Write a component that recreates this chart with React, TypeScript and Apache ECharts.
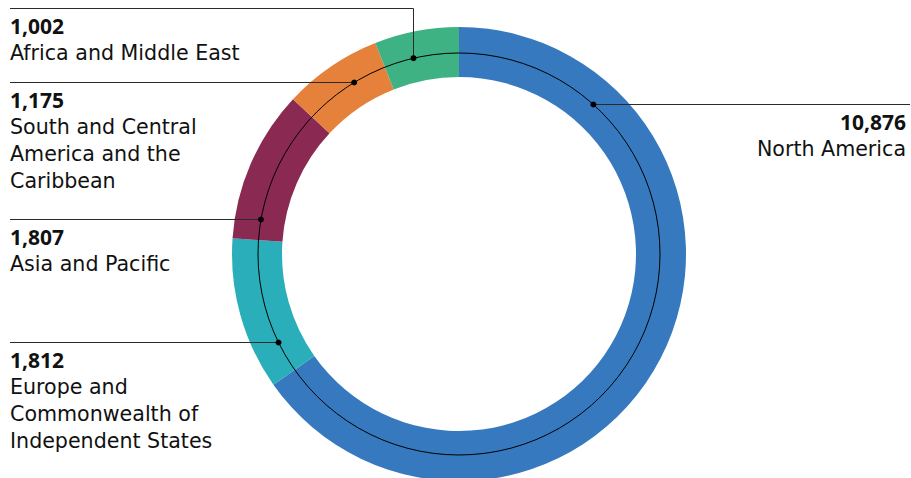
import React, { useEffect, useRef } from "react";
import * as echarts from "echarts";

// Regions, listed clockwise from 12 o'clock
const regions = [
  "North America",
  "Europe and\nCommonwealth of\nIndependent States",
  "Asia and Pacific",
  "South and Central\nAmerica and the\nCaribbean",
  "Africa and Middle East",
];
const values = [10876, 1812, 1807, 1175, 1002];
const colors = ["#3679bf", "#2aaeb9", "#8a2a52", "#e6813b", "#3eb283"];

// Geometry of the ring (pixels)
const CX = 459;
const CY = 254;
const INNER_R = 177;
const OUTER_R = 227;
const GUIDE_R = 201;
const LEFT_X = 10;
const RIGHT_X = 910;

// Leader line placement per slice: horizontal rule height and side
type Leader = { side: "left" | "right"; y: number; dotX?: number };
const leaders: Leader[] = [
  { side: "right", y: 104.5 },
  { side: "left", y: 342.5 },
  { side: "left", y: 219.5 },
  { side: "left", y: 82.5 },
  { side: "left", y: 8.5, dotX: 413.5 },
];

const NAME_FONT = "'DejaVu Sans', sans-serif";
const VALUE_FONT = "'Noto Sans', sans-serif";

function dotFor(l: Leader): [number, number] {
  if (l.dotX !== undefined) {
    const dx = l.dotX - CX;
    return [l.dotX, CY - Math.sqrt(GUIDE_R * GUIDE_R - dx * dx)];
  }
  const dy = l.y - CY;
  const dx = Math.sqrt(GUIDE_R * GUIDE_R - dy * dy);
  return [l.side === "right" ? CX + dx : CX - dx, l.y];
}

function leaderPoints(l: Leader): number[][] {
  const [dx, dy] = dotFor(l);
  const endX = l.side === "right" ? RIGHT_X : LEFT_X;
  return l.dotX !== undefined
    ? [
        [dx, dy],
        [dx, l.y],
        [endX, l.y],
      ]
    : [
        [dx, dy],
        [endX, l.y],
      ];
}

export default function App() {
  const ref = useRef<HTMLDivElement>(null);

  useEffect(() => {
    document.body.style.margin = "0";
    if (!ref.current) return;
    const chart = echarts.init(ref.current, undefined, { renderer: "svg" });

    const lines = leaders.map((l) => ({
      type: "polyline",
      z: 18,
      shape: { points: leaderPoints(l) },
      style: { stroke: "#2a2a2a", lineWidth: 1, fill: "none" },
    }));

    const dots = leaders.map((l) => {
      const [x, y] = dotFor(l);
      return {
        type: "circle",
        z: 20,
        shape: { cx: x, cy: y, r: 3 },
        style: { fill: "#000" },
      };
    });

    chart.setOption({
      animation: false,
      backgroundColor: "#fff",
      graphic: [
        {
          type: "circle",
          z: 15,
          shape: { cx: CX, cy: CY, r: GUIDE_R },
          style: { fill: "none", stroke: "#000", lineWidth: 1 },
        },
        ...lines,
        ...dots,
      ],
      series: [
        {
          type: "pie",
          center: [CX, CY],
          radius: [INNER_R, OUTER_R],
          startAngle: 90,
          clockwise: true,
          avoidLabelOverlap: false,
          itemStyle: { borderWidth: 0 },
          emphasis: { disabled: true },
          data: regions.map((name, i) => ({
            name,
            value: values[i],
            itemStyle: { color: colors[i] },
          })),
          label: {
            show: true,
            position: "outside",
            fontFamily: NAME_FONT,
            formatter: (p: any) => {
              const rows = String(p.name)
                .split("\n")
                .map((s: string) => `{n|${s}}`)
                .join("\n");
              return `{v|${Number(p.value).toLocaleString("en-US")}}\n${rows}`;
            },
            rich: {
              v: {
                fontFamily: VALUE_FONT,
                fontSize: 21,
                fontWeight: "bold",
                color: "#111",
                lineHeight: 27,
              },
              n: {
                fontFamily: NAME_FONT,
                fontSize: 20.6,
                color: "#111",
                lineHeight: 27,
              },
            },
          },
          labelLine: { show: false },
          labelLayout: (params: any) => {
            const l = leaders[params.dataIndex];
            const right = l.side === "right";
            return {
              x: right ? RIGHT_X - 4 : LEFT_X,
              y: l.y + 4,
              align: right ? "right" : "left",
              verticalAlign: "top",
            };
          },
        },
      ],
    });

    return () => chart.dispose();
  }, []);

  return <div ref={ref} style={{ width: 911, height: 478 }} />;
}
